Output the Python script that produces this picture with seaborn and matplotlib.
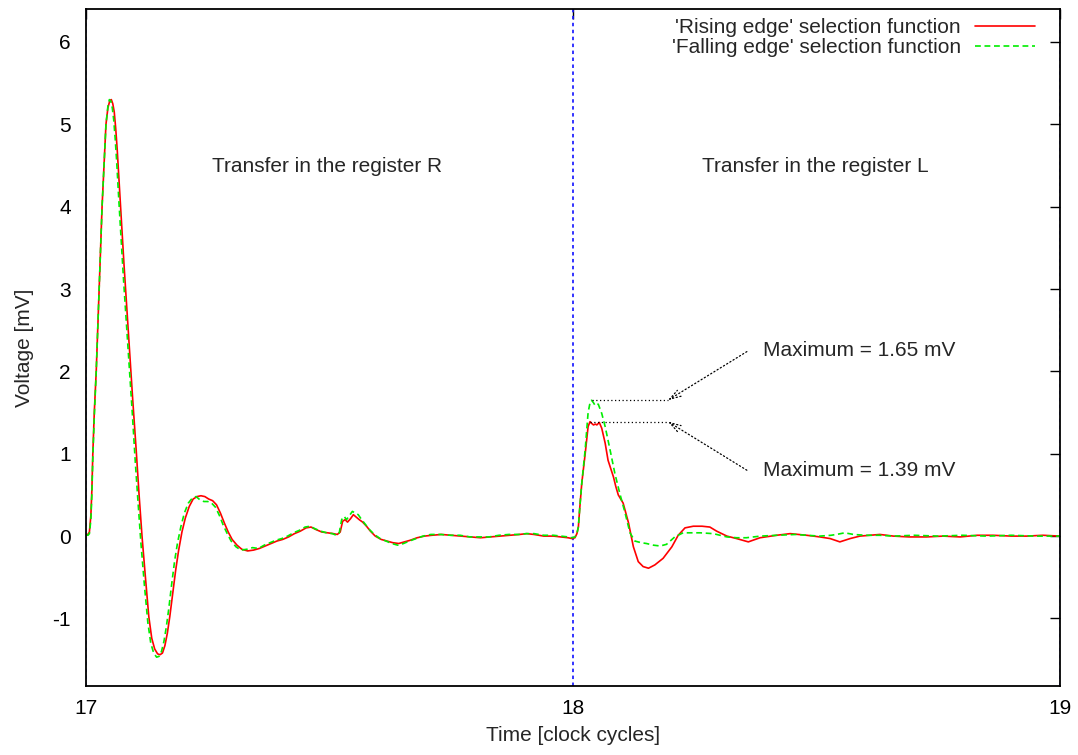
import matplotlib
matplotlib.use("Agg")
import matplotlib.pyplot as plt
import numpy as np
import pandas as pd
import seaborn as sns

# ---------------- data ----------------
time_rising = [
    17.000, 17.004, 17.007, 17.010, 17.012, 17.014, 17.017, 17.021, 17.024, 17.027,
    17.030, 17.033, 17.037, 17.041, 17.045, 17.049, 17.052, 17.055, 17.058, 17.061,
    17.064, 17.068, 17.073, 17.078, 17.084, 17.090, 17.096, 17.103, 17.109, 17.115,
    17.122, 17.129, 17.135, 17.141, 17.147, 17.152, 17.157, 17.162, 17.167, 17.172,
    17.178, 17.184, 17.190, 17.197, 17.204, 17.212, 17.220, 17.228, 17.236, 17.244,
    17.252, 17.260, 17.268, 17.276, 17.284, 17.292, 17.300, 17.310, 17.320, 17.332,
    17.344, 17.356, 17.368, 17.380, 17.392, 17.404, 17.416, 17.428, 17.440, 17.452,
    17.462, 17.472, 17.484, 17.496, 17.508, 17.516, 17.522, 17.527, 17.532, 17.537,
    17.543, 17.549, 17.555, 17.561, 17.568, 17.576, 17.584, 17.594, 17.606, 17.618,
    17.630, 17.642, 17.654, 17.666, 17.680, 17.695, 17.710, 17.730, 17.750, 17.770,
    17.790, 17.810, 17.830, 17.850, 17.870, 17.890, 17.905, 17.920, 17.940, 17.960,
    17.975, 17.990, 17.998, 18.004,
    18.008, 18.011, 18.014, 18.018, 18.025, 18.031, 18.035, 18.038, 18.042, 18.046,
    18.049, 18.054, 18.059, 18.066, 18.072, 18.083, 18.088, 18.093, 18.103, 18.114,
    18.124, 18.134, 18.144, 18.155, 18.168, 18.185, 18.203, 18.216, 18.230, 18.247,
    18.265, 18.281, 18.295, 18.316, 18.336, 18.360, 18.384, 18.418, 18.446, 18.480,
    18.507, 18.528, 18.548, 18.569, 18.589, 18.630, 18.658, 18.690, 18.726, 18.760,
    18.795, 18.830, 18.863, 18.900, 18.932, 18.965, 19.000,
]
volt_rising = [
    0.02, 0.02, 0.05, 0.25, 0.55, 1.00, 1.50, 2.00, 2.50, 3.00,
    3.50, 4.00, 4.50, 5.00, 5.20, 5.29, 5.30, 5.25, 5.15, 4.95,
    4.70, 4.30, 3.80, 3.30, 2.75, 2.20, 1.65, 1.05, 0.50, 0.00,
    -0.50, -0.98, -1.24, -1.37, -1.43, -1.44, -1.42, -1.33, -1.18, -0.98,
    -0.70, -0.42, -0.18, 0.05, 0.22, 0.36, 0.45, 0.48, 0.49, 0.48,
    0.45, 0.43, 0.38, 0.28, 0.16, 0.05, -0.04, -0.11, -0.16, -0.18,
    -0.17, -0.15, -0.12, -0.09, -0.06, -0.04, -0.01, 0.03, 0.06, 0.10,
    0.11, 0.08, 0.05, 0.04, 0.03, 0.02, 0.05, 0.18, 0.20, 0.17,
    0.21, 0.26, 0.23, 0.20, 0.17, 0.12, 0.06, 0.00, -0.04, -0.06,
    -0.08, -0.09, -0.07, -0.05, -0.02, 0.00, 0.01, 0.02, 0.01, 0.00,
    -0.01, -0.02, -0.01, 0.00, 0.01, 0.02, 0.03, 0.02, 0.00, 0.00,
    -0.01, -0.02, -0.03, -0.02,
    0.03, 0.11, 0.35, 0.64, 1.00, 1.33, 1.39, 1.37, 1.35, 1.36,
    1.35, 1.38, 1.31, 1.13, 0.92, 0.72, 0.60, 0.50, 0.40, 0.16,
    -0.13, -0.31, -0.37, -0.39, -0.35, -0.27, -0.13, 0.01, 0.10, 0.12,
    0.12, 0.11, 0.06, 0.00, -0.03, -0.07, -0.02, 0.01, 0.03, 0.01,
    -0.01, -0.03, -0.07, -0.03, 0.00, 0.02, 0.00, -0.01, -0.01, 0.00,
    -0.01, 0.01, 0.01, 0.00, 0.00, 0.01, 0.00,
]

time_falling = [
    17.000, 17.004, 17.007, 17.010, 17.012, 17.014, 17.017, 17.021, 17.024, 17.027,
    17.030, 17.033, 17.037, 17.041, 17.045, 17.048, 17.051, 17.054, 17.057, 17.060,
    17.063, 17.067, 17.072, 17.077, 17.083, 17.089, 17.095, 17.101, 17.107, 17.113,
    17.120, 17.127, 17.133, 17.139, 17.145, 17.150, 17.155, 17.160, 17.165, 17.170,
    17.176, 17.182, 17.188, 17.195, 17.202, 17.210, 17.218, 17.226, 17.234, 17.242,
    17.250, 17.258, 17.266, 17.274, 17.282, 17.290, 17.298, 17.308, 17.318, 17.330,
    17.342, 17.354, 17.366, 17.378, 17.390, 17.402, 17.414, 17.426, 17.438, 17.450,
    17.460, 17.470, 17.482, 17.494, 17.506, 17.514, 17.520, 17.525, 17.530, 17.535,
    17.541, 17.547, 17.553, 17.559, 17.566, 17.574, 17.582, 17.592, 17.604, 17.616,
    17.628, 17.640, 17.652, 17.664, 17.678, 17.692, 17.708, 17.728, 17.748, 17.768,
    17.788, 17.808, 17.828, 17.848, 17.868, 17.888, 17.904, 17.920, 17.940, 17.960,
    17.975, 17.990, 17.998, 18.004,
    18.008, 18.011, 18.014, 18.018, 18.025, 18.031, 18.035, 18.038, 18.042, 18.045,
    18.049, 18.052, 18.059, 18.066, 18.076, 18.086, 18.096, 18.107, 18.117, 18.127,
    18.140, 18.151, 18.165, 18.179, 18.192, 18.209, 18.226, 18.245, 18.261, 18.288,
    18.316, 18.336, 18.356, 18.385, 18.418, 18.458, 18.480, 18.507, 18.530, 18.541,
    18.558, 18.576, 18.600, 18.630, 18.658, 18.700, 18.750, 18.800, 18.850, 18.900,
    18.950, 19.000,
]
volt_falling = [
    0.02, 0.01, 0.03, 0.20, 0.50, 0.95, 1.45, 2.00, 2.50, 3.00,
    3.50, 4.00, 4.50, 5.00, 5.22, 5.30, 5.28, 5.20, 5.05, 4.82,
    4.55, 4.12, 3.62, 3.12, 2.58, 2.05, 1.50, 0.92, 0.40, -0.10,
    -0.60, -1.05, -1.30, -1.42, -1.47, -1.46, -1.40, -1.28, -1.10, -0.88,
    -0.58, -0.30, -0.08, 0.12, 0.28, 0.40, 0.46, 0.48, 0.44, 0.42,
    0.42, 0.40, 0.35, 0.25, 0.13, 0.03, -0.06, -0.13, -0.17, -0.16,
    -0.14, -0.15, -0.11, -0.08, -0.05, -0.03, 0.00, 0.04, 0.07, 0.11,
    0.12, 0.09, 0.06, 0.04, 0.03, 0.01, 0.04, 0.20, 0.24, 0.20,
    0.25, 0.30, 0.28, 0.26, 0.20, 0.14, 0.08, 0.02, -0.03, -0.06,
    -0.09, -0.11, -0.09, -0.06, -0.03, 0.00, 0.02, 0.02, 0.01, 0.01,
    -0.01, -0.01, -0.01, 0.01, 0.02, 0.02, 0.03, 0.03, 0.01, 0.01,
    0.00, -0.01, -0.02, -0.01,
    0.03, 0.11, 0.35, 0.64, 1.05, 1.50, 1.62, 1.65, 1.62, 1.59,
    1.61, 1.60, 1.49, 1.33, 1.05, 0.76, 0.52, 0.28, 0.04, -0.06,
    -0.08, -0.09, -0.11, -0.12, -0.10, -0.01, 0.04, 0.04, 0.04, 0.03,
    -0.01, -0.02, -0.02, 0.00, 0.01, 0.02, 0.01, 0.00, 0.01, 0.02,
    0.04, 0.02, 0.01, 0.01, 0.00, 0.01, 0.00, 0.01, 0.00, 0.01,
    0.00, 0.00,
]

series_names = ["'Rising edge' selection function", "'Falling edge' selection function"]
region_labels = ["Transfer in the register R", "Transfer in the register L"]
x_ticks = [17, 18, 19]
y_ticks = [-1, 0, 1, 2, 3, 4, 5, 6]
register_boundary = 18

# ---------------- style ----------------
sns.set_style("white")
plt.rcParams["font.family"] = ["Liberation Sans", "DejaVu Sans"]
FS = 15

fig = plt.figure(figsize=(10.78, 7.55), dpi=100)
ax = fig.add_axes([86 / 1078, 1 - 686 / 755, (1060 - 86) / 1078, (686 - 9) / 755])

df_r = pd.DataFrame({"time": time_rising, "volt": volt_rising, "series": series_names[0]})
df_f = pd.DataFrame({"time": time_falling, "volt": volt_falling, "series": series_names[1]})

# dotted blue register boundaries
for xv in x_ticks:
    ax.axvline(xv, color="#1a1aff", lw=1.25, ls=(0, (2.0, 2.0)), zorder=1,
               alpha=1.0 if xv == register_boundary else 0.6)

sns.lineplot(data=df_r, x="time", y="volt", color="#ff0000", lw=1.2, ax=ax,
             label=series_names[0], zorder=3)
sns.lineplot(data=df_f, x="time", y="volt", color="#00ee00", lw=1.2, ax=ax,
             label=series_names[1], zorder=4)
line_r, line_f = ax.get_lines()[-2:]
line_f.set_dashes([3.5, 2.2])

ax.set_xlim(17, 19)
ax.set_ylim(-1.82, 6.40)
ax.set_xticks(x_ticks)
ax.set_yticks(y_ticks)
ax.set_xticklabels([str(v) for v in x_ticks])
ax.set_yticklabels([str(v) for v in y_ticks])
ax.tick_params(axis="both", direction="in", length=7, width=1.0, top=True, right=True,
               labelsize=FS, colors="black")
ax.tick_params(axis="y", pad=11)
ax.tick_params(axis="x", pad=9)
for s in ax.spines.values():
    s.set_visible(True)
    s.set_color("black")
    s.set_linewidth(1.3)
    s.set_zorder(6)

ax.set_xlabel("Time [clock cycles]", fontsize=FS, labelpad=6)
ax.set_ylabel("Voltage [mV]", fontsize=FS, labelpad=13)

# region labels
ax.text(17.495, 4.49, region_labels[0], fontsize=FS, ha="center", va="center")
ax.text(18.497, 4.49, region_labels[1], fontsize=FS, ha="center", va="center")

# annotations of the maxima in the L-register transfer
t_r = np.array(time_rising); v_r = np.array(volt_rising)
t_f = np.array(time_falling); v_f = np.array(volt_falling)
mr = t_r > register_boundary
mf = t_f > register_boundary
ir = np.argmax(v_r[mr]); i_f = np.argmax(v_f[mf])
peak_r = (t_r[mr][ir], v_r[mr][ir])
peak_f = (t_f[mf][i_f], v_f[mf][i_f])

elbow_t = 18.195
tail_t = 18.357
text_t = 18.39
for (pt, pv), (tail_v, txt_v) in [(peak_f, (2.24, 2.25)), (peak_r, (0.80, 0.80))]:
    ax.plot([pt, elbow_t], [pv, pv], color="black", lw=0.9, ls=(0, (1, 2)), zorder=5)
    ax.annotate("", xy=(elbow_t, pv), xytext=(tail_t, tail_v),
                arrowprops=dict(arrowstyle="->,head_length=0.8,head_width=0.25",
                                color="black", lw=0.9, ls=(0, (1, 2)),
                                shrinkA=0, shrinkB=0), zorder=5)
    ax.text(text_t, txt_v, f"Maximum = {pv:.2f} mV", fontsize=FS, ha="left", va="center")

leg = ax.legend(handles=[line_r, line_f], labels=series_names, loc="upper right",
                bbox_to_anchor=(1035 / 1078, 1 - 18 / 755), bbox_transform=fig.transFigure,
                markerfirst=False, frameon=False, fontsize=FS, handlelength=2.9,
                handletextpad=0.67, labelspacing=0.05, borderpad=0, borderaxespad=0)

fig.savefig("out.png", dpi=100)
